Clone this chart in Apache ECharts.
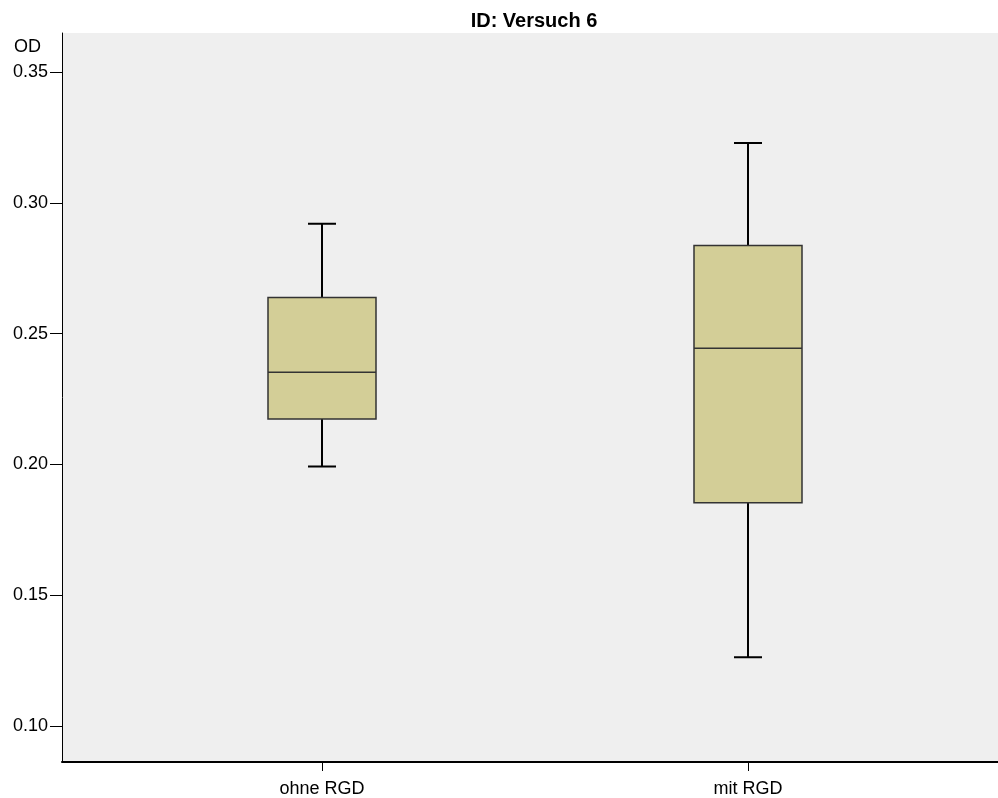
<!DOCTYPE html>
<html><head><meta charset="utf-8">
<script src="https://cdn.jsdelivr.net/npm/echarts@6/dist/echarts.min.js"></script>
<style>html,body{margin:0;padding:0;background:#fff}#c{width:998px;height:798px}</style>
</head><body><div id="c"></div>
<script>
var categories = ['ohne RGD', 'mit RGD'];
// [min, Q1, median, Q3, max]
var ohneRGD = [0.1992, 0.2172, 0.2351, 0.2637, 0.2920];
var mitRGD = [0.1263, 0.1851, 0.2443, 0.2836, 0.3229];
var yTicks = [0.10, 0.15, 0.20, 0.25, 0.30, 0.35];
var yMin = 0.0863, yMax = 0.3649;

var stats = [ohneRGD, mitRGD];
// whisker-only version (box collapsed onto the median, hidden beneath the real box)
var whiskerOnly = stats.map(function (s) { return [s[0], s[2], s[2], s[2], s[4]]; });
// box-only version (whiskers collapsed onto the box edges)
var boxOnly = stats.map(function (s) { return [s[1], s[1], s[2], s[3], s[3]]; });

var chart = echarts.init(document.getElementById('c'));
var font = 'Liberation Sans, Arial, sans-serif';
chart.setOption({
  animation: false,
  backgroundColor: '#ffffff',
  title: [
    {text: 'ID: Versuch 6', left: 529, textAlign: 'center', top: 6,
     textStyle: {fontFamily: font, fontSize: 20, fontWeight: 'bold', color: '#000'}},
    {text: 'OD', left: 9, top: 33,
     textStyle: {fontFamily: font, fontSize: 18, fontWeight: 'normal', color: '#000'}}
  ],
  grid: [
    {left: 109, right: 37, top: 33, bottom: 36, show: false},
    {left: 62, right: 0, top: 33, bottom: 36, show: true, backgroundColor: '#efefef', borderWidth: 0},
    {left: 109, right: 37, top: 33, bottom: 36, show: false}
  ],
  xAxis: [
    {type: 'category', gridIndex: 0, data: categories, boundaryGap: true,
     axisLine: {show: false},
     axisTick: {show: true, alignWithLabel: true, length: 10, lineStyle: {color: '#000', width: 1}},
     splitLine: {show: false},
     axisLabel: {fontFamily: font, fontSize: 18, color: '#000', margin: 19}},
    {type: 'category', gridIndex: 1, data: [''],
     axisLine: {show: true, lineStyle: {color: '#000', width: 2}}, axisTick: {show: false},
     axisLabel: {show: false}, splitLine: {show: false}},
    {type: 'category', gridIndex: 2, data: categories, boundaryGap: true, show: false}
  ],
  yAxis: [
    {type: 'value', gridIndex: 0, min: yMin, max: yMax, show: false, splitLine: {show: false}},
    {type: 'value', gridIndex: 1, min: yMin, max: yMax,
     axisLine: {show: true, lineStyle: {color: '#000', width: 1}},
     axisTick: {show: true, length: 12, customValues: yTicks, lineStyle: {color: '#000'}},
     axisLabel: {customValues: yTicks, fontFamily: font, fontSize: 18, color: '#000', margin: 14,
       formatter: function (v) { return v.toFixed(2); }},
     splitLine: {show: false}},
    {type: 'value', gridIndex: 2, min: yMin, max: yMax, show: false, splitLine: {show: false}}
  ],
  series: [
    {type: 'boxplot', xAxisIndex: 2, yAxisIndex: 2, z: 2,
     boxWidth: [28, 28],
     data: whiskerOnly,
     itemStyle: {color: 'rgba(0,0,0,0)', borderColor: '#000', borderWidth: 2},
     emphasis: {disabled: true}},
    {type: 'boxplot', xAxisIndex: 0, yAxisIndex: 0, z: 3,
     boxWidth: [108, 108],
     data: boxOnly,
     itemStyle: {color: '#d3ce97', borderColor: '#333', borderWidth: 1.5},
     emphasis: {disabled: true}}
  ]
});
</script></body></html>
